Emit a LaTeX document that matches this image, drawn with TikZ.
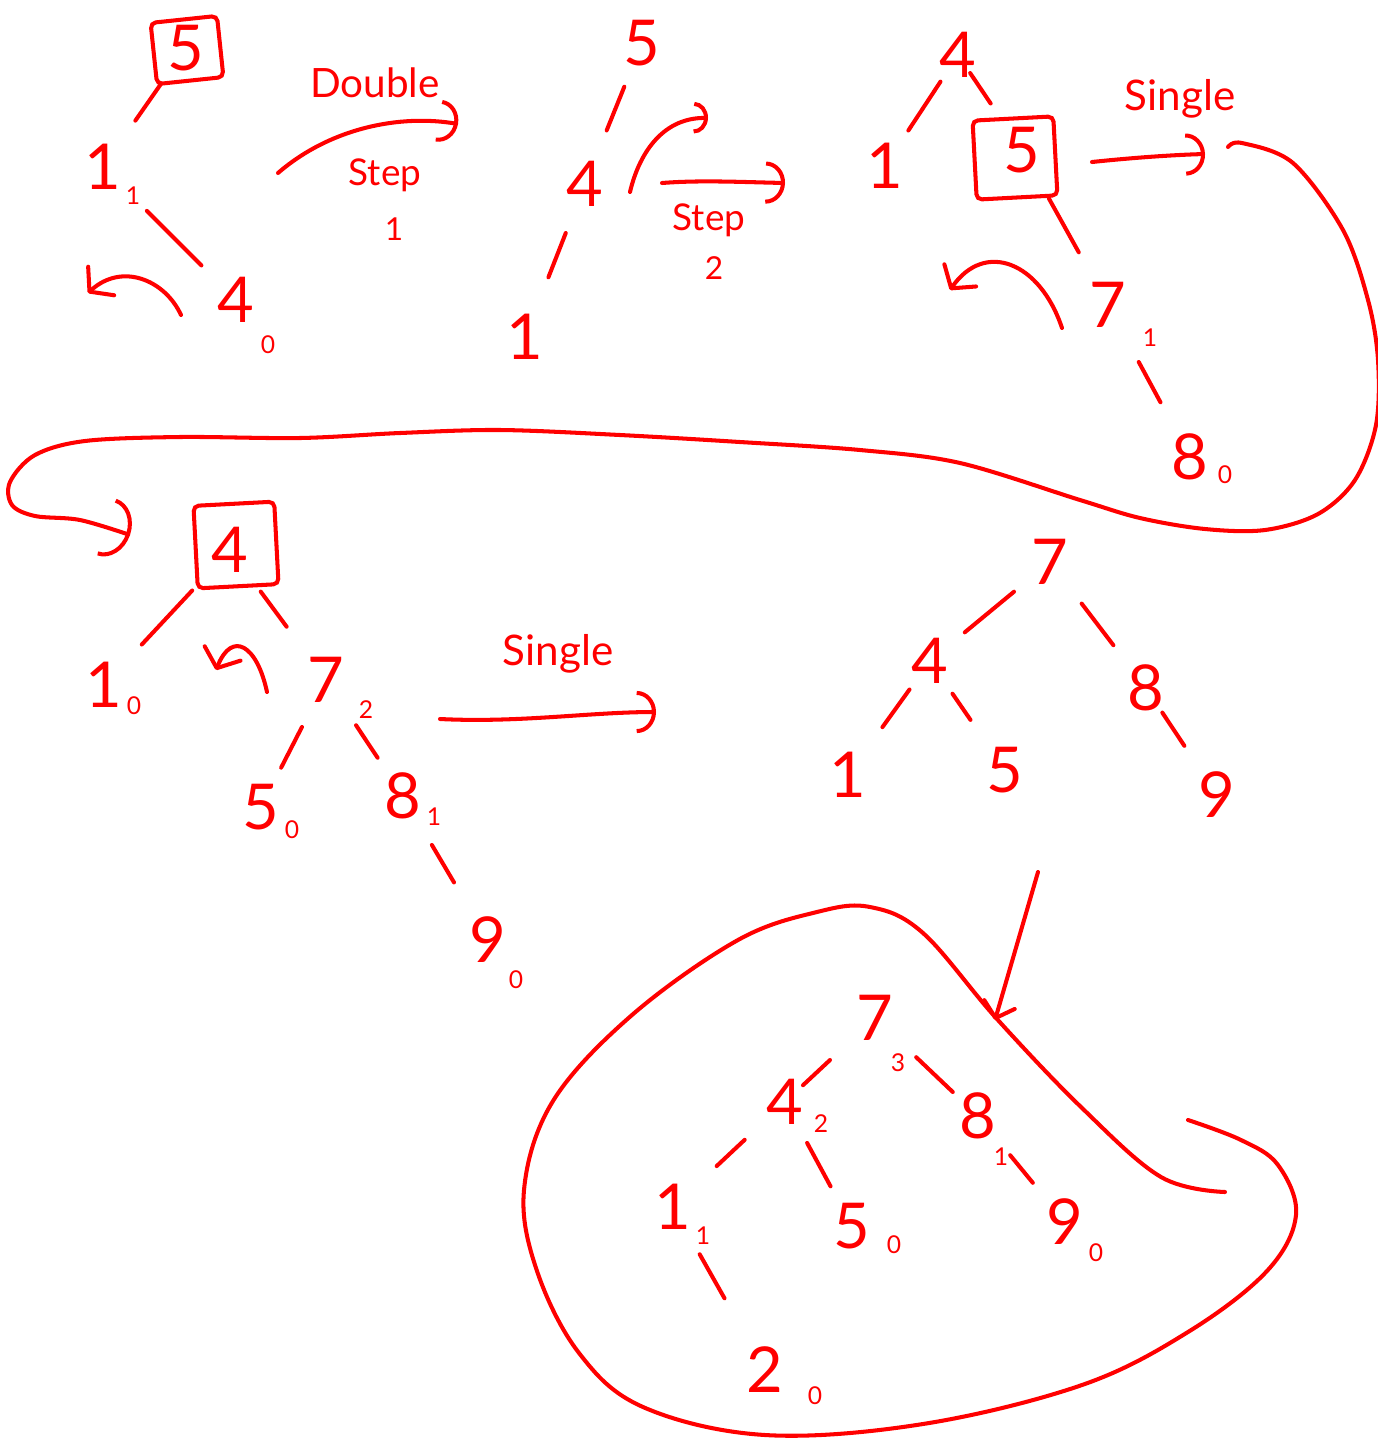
\documentclass[tikz,border=0pt]{standalone}
\usepackage{fontspec}
\setmainfont{Lato}
\usetikzlibrary{arrows.meta,calc}
\definecolor{pen}{RGB}{255,0,0}
% short stroke on the line between two tree nodes, from fraction #3 to #4
\newcommand{\treeedge}[4]{\draw[ink] ($(#1)!#3!(#2)$) -- ($(#1)!#4!(#2)$);}

\begin{document}
\begin{tikzpicture}[x=0.02cm, y=-0.02cm,
  ink/.style={draw=pen, line width=2.3pt, line cap=round, line join=round},
  digit/.style={text=pen, font=\fontsize{36}{40}\selectfont, inner sep=0pt},
  subnum/.style={text=pen, font=\fontsize{14}{16}\selectfont, inner sep=0pt},
  caption/.style={text=pen, font=\fontsize{23}{26}\selectfont, inner sep=0pt, anchor=base},
  stepnum/.style={text=pen, font=\fontsize{18}{20}\selectfont, inner sep=0pt},
  handbox/.style={draw=pen, line width=2.3pt, rounded corners=3pt, inner sep=0pt},
  bigtip/.style={-{Arc Barb[length=11pt,width=24pt]}},
  smalltip/.style={-{Arc Barb[length=8pt,width=18pt]}},
  rottip/.style={-{Straight Barb[length=9pt,width=22pt,round]}},
  downtip/.style={-{Straight Barb[length=8pt,width=18pt,round]}}
]
\fill[white] (0,0) rectangle (1378,1438);
\useasboundingbox (0,0) rectangle (1378,1438);

% ---------- tree 1: 5 / 1 / 4 ----------
\node[handbox, minimum width=38pt, minimum height=35pt, rotate=6] (box1) at (187,50) {};
\node[digit] (a5) at (186,48) {5};
\node[digit] (a1) at (103,167) {1};
\node[subnum] (a1h) at (133,196) {1};
\node[digit] (a4) at (236,300) {4};
\node[subnum] (a4h) at (268,345) {0};
\treeedge{a5}{a1}{0.31}{0.61}
\treeedge{a1}{a4}{0.33}{0.74}
\draw[ink, rottip] (181,315) .. controls (165,280) and (122,262) .. (88,293);

% double rotation, first step
\draw[ink, bigtip] (278,173) .. controls (330,128) and (400,114) .. (458,124);
\node[caption] (dbl) at (375,97) {Double};
\node[caption, font=\fontsize{21}{24}\selectfont] (st1) at (385,185) {Step};
\node[stepnum] (st1n) at (394,229) {1};

% ---------- tree 2: 5 / 4 / 1 ----------
\node[digit] (b5) at (642,43) {5};
\node[digit] (b4) at (585,184) {4};
\node[digit] (b1) at (525,337) {1};
\treeedge{b5}{b4}{0.31}{0.62}
\treeedge{b4}{b1}{0.32}{0.61}
\draw[ink, smalltip] (630,192) .. controls (640,150) and (665,117) .. (708,118);

% double rotation, second step
\draw[ink, bigtip] (662,183) .. controls (700,180) and (740,182) .. (785,183);
\node[caption, font=\fontsize{21}{24}\selectfont] (st2) at (709,230) {Step};
\node[stepnum] (st2n) at (714,268) {2};

% ---------- tree 3: 4 / 1 5 / 7 / 8 ----------
\node[handbox, minimum width=46pt, minimum height=45pt, rotate=3] (box3) at (1015,158) {};
\node[digit] (c4) at (958,55) {4};
\node[digit] (c1) at (885,166) {1};
\node[digit] (c5) at (1022,150) {5};
\node[digit] (c7) at (1108,305) {7};
\node[subnum] (c7h) at (1150,338) {1};
\node[digit] (c8) at (1190,457) {8};
\node[subnum] (c8h) at (1225,475) {0};
\treeedge{c4}{c1}{0.24}{0.68}
\treeedge{c4}{c5}{0.19}{0.51}
\treeedge{c5}{c7}{0.31}{0.66}
\treeedge{c7}{c8}{0.375}{0.64}
\draw[ink, rottip] (1062,328) .. controls (1040,262) and (985,240) .. (950,290);

% single rotation
\draw[ink, bigtip] (1092,162) .. controls (1130,158) and (1170,155) .. (1205,154);
\node[caption, font=\fontsize{24}{26}\selectfont] (sg1) at (1180,110) {Single};

% long connector to the next row
\draw[ink, -{Arc Barb[length=14pt,width=34pt]}] plot[smooth, tension=0.55] coordinates {
  (1228,147) (1242,143) (1293,163) (1343,230) (1368,300) (1378,360) (1376,425)
  (1355,480) (1318,514) (1265,530) (1205,529) (1140,518) (1080,500) (960,463)
  (860,450) (740,442) (620,435) (500,430) (400,433) (300,438) (180,437) (85,441)
  (35,455) (10,482) (12,505) (35,516) (80,520) (130,535)};

% ---------- tree 4: 4 / 1 7 / 5 8 / 9 ----------
\node[handbox, minimum width=46pt, minimum height=47pt, rotate=3] (box4) at (236,545) {};
\node[digit] (d4) at (230,550) {4};
\node[digit] (d1) at (104,685) {1};
\node[subnum] (d1h) at (134,706) {0};
\node[digit] (d7) at (326,680) {7};
\node[subnum] (d7h) at (366,710) {2};
\node[digit] (d5) at (261,807) {5};
\node[subnum] (d5h) at (292,830) {0};
\node[digit] (d8) at (403,796) {8};
\node[subnum] (d8h) at (434,817) {1};
\node[digit] (d9) at (488,940) {9};
\node[subnum] (d9h) at (516,980) {0};
\treeedge{d4}{d1}{0.30}{0.70}
\treeedge{d4}{d7}{0.32}{0.59}
\treeedge{d7}{d5}{0.37}{0.69}
\treeedge{d7}{d8}{0.39}{0.67}
\treeedge{d8}{d9}{0.34}{0.60}
\draw[ink, rottip] (267,692) .. controls (257,645) and (232,630) .. (216,670);

% single rotation
\draw[ink, bigtip] (440,719) .. controls (520,723) and (590,712) .. (656,712);
\node[caption, font=\fontsize{24}{26}\selectfont] (sg2) at (558,665) {Single};

% ---------- tree 5: 7 / 4 8 / 1 5 9 ----------
\node[digit] (e7) at (1050,562) {7};
\node[digit] (e4) at (930,661) {4};
\node[digit] (e8) at (1146,688) {8};
\node[digit] (e1) at (848,775) {1};
\node[digit] (e5) at (1005,770) {5};
\node[digit] (e9) at (1217,795) {9};
\treeedge{e7}{e4}{0.30}{0.71}
\treeedge{e7}{e8}{0.33}{0.66}
\treeedge{e4}{e1}{0.25}{0.58}
\treeedge{e4}{e5}{0.30}{0.54}
\treeedge{e8}{e9}{0.23}{0.54}

% insert 2
\draw[ink, downtip] (1038,872) -- (995,1020);

% ---------- tree 6: 7 / 4 8 / 1 5 9 / 2 ----------
\node[digit] (f7) at (875,1018) {7};
\node[subnum] (f7h) at (898,1063) {3};
\node[digit] (f4) at (785,1102) {4};
\node[subnum] (f4h) at (821,1124) {2};
\node[digit] (f8) at (978,1116) {8};
\node[subnum] (f8h) at (1001,1157) {1};
\node[digit] (f1) at (673,1207) {1};
\node[subnum] (f1h) at (703,1236) {1};
\node[digit] (f5) at (852,1226) {5};
\node[subnum] (f5h) at (894,1245) {0};
\node[digit] (f9) at (1065,1222) {9};
\node[subnum] (f9h) at (1096,1253) {0};
\node[digit] (f2) at (765,1370) {2};
\node[subnum] (f2h) at (815,1396) {0};
\treeedge{f7}{f4}{0.50}{0.80}
\treeedge{f7}{f8}{0.40}{0.755}
\treeedge{f4}{f1}{0.36}{0.61}
\treeedge{f4}{f5}{0.33}{0.68}
\treeedge{f8}{f9}{0.37}{0.63}
\treeedge{f1}{f2}{0.29}{0.56}

% loop around the final tree
\draw[ink] plot[smooth, tension=0.6] coordinates {
  (1225,1192) (1161,1177) (1082,1108) (997,1019) (923,933) (870,907) (817,912)
  (738,940) (632,1015) (553,1101) (524,1190) (537,1271) (579,1353) (643,1407)
  (765,1435) (923,1424) (1082,1385) (1188,1332) (1267,1271) (1296,1215)
  (1278,1165) (1241,1140) (1188,1120)};
\end{tikzpicture}
\end{document}
